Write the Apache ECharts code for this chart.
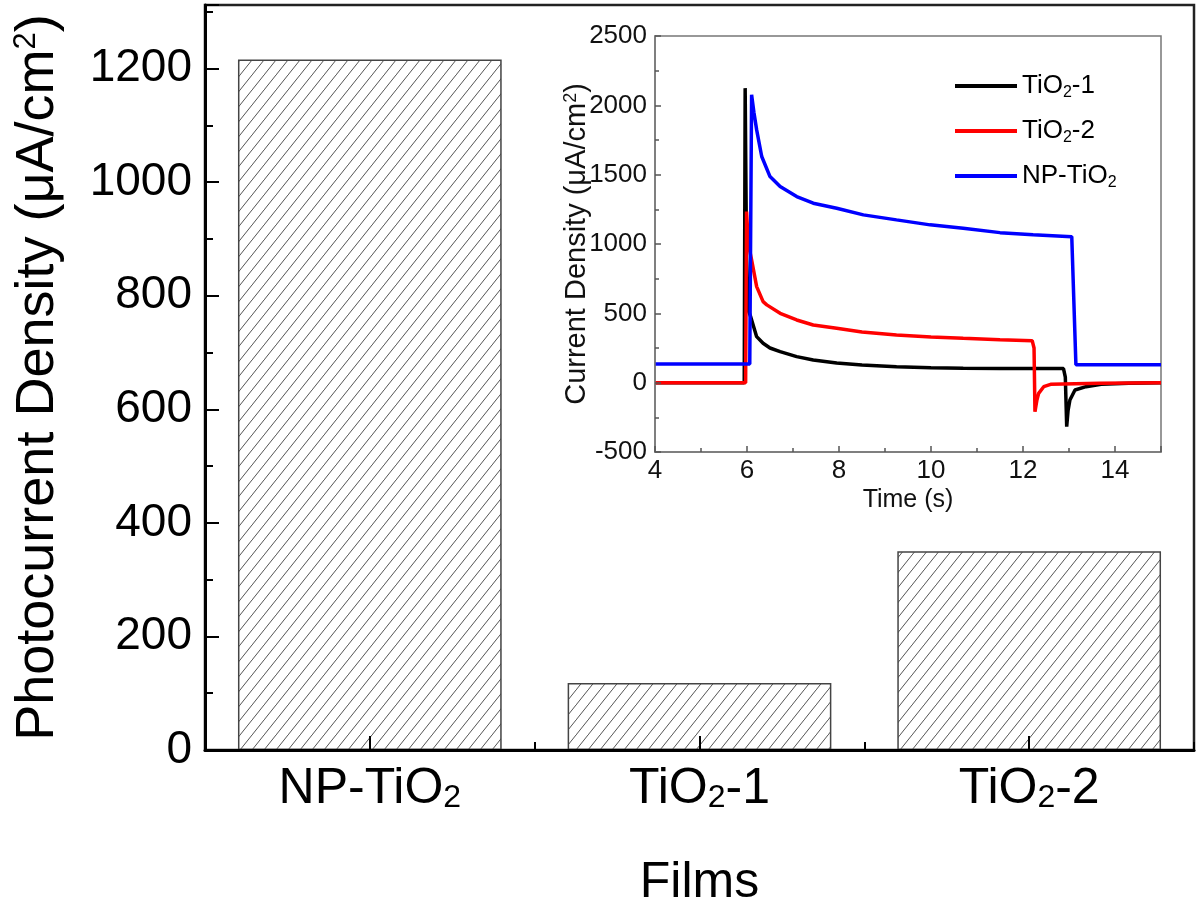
<!DOCTYPE html>
<html><head><meta charset="utf-8">
<script src="https://cdn.jsdelivr.net/npm/echarts@6/dist/echarts.min.js"></script>
<style>html,body{margin:0;padding:0;background:#fff}#c{width:1200px;height:913px}</style>
</head><body><div id="c"></div>
<script>
// ---- main bar chart data ----
const films = ['NP-TiO2', 'TiO2-1', 'TiO2-2'];
const photocurrent = [1216, 118, 350];

// ---- inset transient data: [time (s), current density (uA/cm2)] ----
const seriesNames = ['TiO2-1', 'TiO2-2', 'NP-TiO2'];
const tio2_1 = [[4,0],[5.94,0],[5.96,2124],[5.99,900],[6.03,520],[6.08,476],[6.21,332],[6.35,284],[6.5,250],[6.72,224],[7.08,188],[7.44,164],[7.95,142],[8.5,128],[9.25,115],[10.0,108],[10.7,104],[11.5,103],[12.2,102],[12.88,102],[12.92,40],[12.95,-317],[12.98,-200],[13.02,-125],[13.13,-53],[13.37,-29],[13.7,-12],[14.3,-5],[15,0]];
const tio2_2 = [[4,0],[5.97,0],[5.99,1234],[6.03,1000],[6.1,885],[6.21,693],[6.35,584],[6.43,561],[6.72,500],[7.08,452],[7.44,416],[7.95,392],[8.5,365],[9.25,344],[10.0,330],[10.7,320],[11.5,310],[12.2,303],[12.24,250],[12.26,-209],[12.3,-130],[12.34,-77],[12.45,-29],[12.6,-12],[13.67,-5],[15,0]];
const npTiO2 = [[4,135],[6.06,135],[6.1,2076],[6.15,1950],[6.21,1823],[6.32,1631],[6.5,1486],[6.72,1414],[7.08,1342],[7.44,1294],[7.95,1258],[8.53,1210],[9.25,1174],[9.98,1138],[10.7,1114],[11.5,1082],[12.22,1066],[13.06,1053],[13.08,1050],[13.15,130],[15,130]];
const lineColors = ['#000000', '#ff0000', '#0000ff'];

const F = '"Liberation Sans", Arial, sans-serif';
const sub = s => s.replace('TiO2', 'TiO{sub|2}');
const plain = v => String(v);

function hatch() {
  const w = 12, h = 15;
  const c = document.createElement('canvas');
  c.width = w; c.height = h;
  const g = c.getContext('2d');
  g.fillStyle = '#fff'; g.fillRect(0, 0, w, h);
  g.strokeStyle = '#555'; g.lineWidth = 1;
  g.beginPath();
  g.moveTo(0, h); g.lineTo(w, 0);
  g.moveTo(-w, h); g.lineTo(0, 0);
  g.moveTo(w, 2 * h); g.lineTo(2 * w, h);
  g.stroke();
  return c;
}

const chart = echarts.init(document.getElementById('c'), null, {renderer: 'canvas'});
chart.setOption({
  animation: false,
  backgroundColor: '#fff',
  grid: [
    {left: 205, right: 6, top: 5, bottom: 162, show: true, borderColor: '#222', borderWidth: 2.5, backgroundColor: 'transparent'},
    {left: 655, top: 36, width: 506, height: 416, show: true, borderColor: '#777', borderWidth: 1.5, backgroundColor: 'transparent'}
  ],
  legend: {
    data: seriesNames,
    orient: 'vertical', left: 955, top: 71, padding: 0,
    icon: 'rect', itemWidth: 62, itemHeight: 4, itemGap: 15,
    formatter: sub,
    textStyle: {fontSize: 26, fontFamily: F, color: '#000', lineHeight: 30,
      rich: {sub: {fontSize: 16, fontFamily: F, color: '#000', verticalAlign: 'bottom', lineHeight: 12}}}
  },
  xAxis: [
    {type: 'category', gridIndex: 0, data: films, position: 'bottom', z: 10,
      name: 'Films', nameLocation: 'middle', nameGap: 108,
      nameTextStyle: {fontSize: 50, fontFamily: F, color: '#000'},
      axisLine: {show: true, lineStyle: {color: '#000', width: 3}},
      axisTick: {show: true, alignWithLabel: true, inside: true, length: 14, lineStyle: {color: '#000', width: 2}},
      axisLabel: {show: true, interval: 0, fontSize: 50, fontFamily: F, color: '#000', margin: 14, formatter: sub,
        rich: {sub: {fontSize: 32, fontFamily: F, color: '#000', verticalAlign: 'bottom', lineHeight: 2}}},
      splitLine: {show: false}},
    {type: 'category', gridIndex: 0, data: films, position: 'bottom', z: 10,
      axisLine: {show: false},
      axisTick: {show: true, alignWithLabel: false, inside: true, length: 8, interval: 0, lineStyle: {color: '#000', width: 2}},
      axisLabel: {show: false}, splitLine: {show: false}},
    {type: 'value', gridIndex: 1, min: 4, max: 15, interval: 2, z: 10,
      name: 'Time (s)', nameLocation: 'middle', nameGap: 36, nameMoveOverlap: false,
      nameTextStyle: {fontSize: 25, fontFamily: F, color: '#111'},
      axisLine: {show: true, onZero: false, lineStyle: {color: '#777', width: 1.5}},
      axisTick: {show: true, inside: true, length: 6, lineStyle: {color: '#555', width: 1.5}},
      minorTick: {show: true, splitNumber: 2, length: 4, lineStyle: {color: '#555', width: 1.5}},
      axisLabel: {show: true, fontSize: 26, fontFamily: F, color: '#111', margin: 6, showMaxLabel: false, formatter: plain},
      splitLine: {show: false}}
  ],
  yAxis: [
    {type: 'value', gridIndex: 0, min: 0, max: 1312, interval: 200, z: 10,
      name: 'Photocurrent Density (μA/cm{sup|2})', nameLocation: 'middle', nameGap: 140, nameRotate: 90, nameMoveOverlap: false,
      nameTextStyle: {fontSize: 54, fontFamily: F, color: '#000',
        rich: {sup: {fontSize: 31, fontFamily: F, color: '#000', verticalAlign: 'top', lineHeight: 24}}},
      axisLine: {show: true, lineStyle: {color: '#000', width: 3}},
      axisTick: {show: true, inside: true, length: 14, lineStyle: {color: '#000', width: 2}},
      minorTick: {show: true, splitNumber: 2, length: 8, lineStyle: {color: '#000', width: 2}},
      axisLabel: {show: true, fontSize: 46, fontFamily: F, color: '#000', margin: 13, showMaxLabel: false, formatter: plain},
      splitLine: {show: false}},
    {type: 'value', gridIndex: 1, min: -500, max: 2500, interval: 500, z: 10,
      name: 'Current Density (μA/cm{sup|2})', nameLocation: 'middle', nameGap: 64, nameRotate: 90, nameMoveOverlap: false,
      nameTextStyle: {fontSize: 29, fontFamily: F, color: '#111',
        rich: {sup: {fontSize: 18, fontFamily: F, color: '#111', verticalAlign: 'top', lineHeight: 12}}},
      axisLine: {show: true, onZero: false, lineStyle: {color: '#777', width: 1.5}},
      axisTick: {show: true, inside: true, length: 6, lineStyle: {color: '#555', width: 1.5}},
      minorTick: {show: true, splitNumber: 2, length: 4, lineStyle: {color: '#555', width: 1.5}},
      axisLabel: {show: true, fontSize: 26, fontFamily: F, color: '#111', margin: 8, formatter: plain},
      splitLine: {show: false}}
  ],
  series: [
    {type: 'bar', xAxisIndex: 0, yAxisIndex: 0, data: photocurrent, barWidth: '80%',
      itemStyle: {color: {image: hatch(), repeat: 'repeat'}, borderColor: '#444', borderWidth: 1.5}},
    {type: 'line', name: seriesNames[0], xAxisIndex: 2, yAxisIndex: 1, data: tio2_1, symbol: 'none',
      color: lineColors[0], lineStyle: {color: lineColors[0], width: 3.5}},
    {type: 'line', name: seriesNames[1], xAxisIndex: 2, yAxisIndex: 1, data: tio2_2, symbol: 'none',
      color: lineColors[1], lineStyle: {color: lineColors[1], width: 3.5}},
    {type: 'line', name: seriesNames[2], xAxisIndex: 2, yAxisIndex: 1, data: npTiO2, symbol: 'none',
      color: lineColors[2], lineStyle: {color: lineColors[2], width: 3.5}}
  ]
});
</script></body></html>
